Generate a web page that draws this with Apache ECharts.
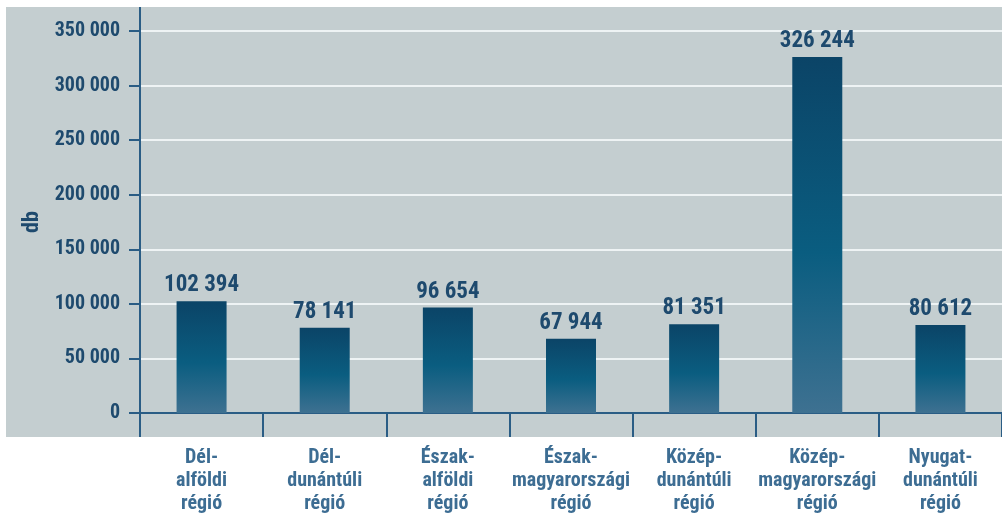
<!DOCTYPE html>
<html>
<head>
<meta charset="utf-8">
<script src="https://cdn.jsdelivr.net/npm/echarts@6/dist/echarts.min.js"></script>
<style>
    html, body { margin: 0; padding: 0; background: #ffffff; }
    #chart { width: 1002px; height: 527px; }
</style>
</head>
<body>
<div id="chart"></div>
<script>
// régiók és darabszámok
var regions = ['Dél-\nalföldi\nrégió', 'Dél-\ndunántúli\nrégió', 'Észak-\nalföldi\nrégió',
    'Észak-\nmagyarországi\nrégió', 'Közép-\ndunántúli\nrégió', 'Közép-\nmagyarországi\nrégió',
    'Nyugat-\ndunántúli\nrégió'];
var counts = [102394, 78141, 96654, 67944, 81351, 326244, 80612];
var yTicks = [0, 50000, 100000, 150000, 200000, 250000, 300000, 350000];

var font = "'Roboto Condensed', 'DejaVu Sans Condensed', sans-serif";
var axisColor = '#2a5d85';

function fmt(v) {
    return String(v).replace(/\B(?=(\d{3})+(?!\d))/g, ' ');
}

var myChart = echarts.init(document.getElementById('chart'));

var option = {
    animation: false,
    graphic: [
        {
            type: 'rect', z: -10, silent: true,
            shape: { x: 6, y: 7, width: 1000, height: 430 },
            style: { fill: '#c4ced0' }
        },
        // tengely meghosszabbítások
        {
            type: 'line', z: 10, silent: true,
            shape: { x1: 140, y1: 7, x2: 140, y2: 32 },
            style: { stroke: axisColor, lineWidth: 2 }
        },
        {
            type: 'line', z: 10, silent: true,
            shape: { x1: 129, y1: 413, x2: 141, y2: 413 },
            style: { stroke: axisColor, lineWidth: 2 }
        }
    ],
    grid: { left: 140, top: 31, width: 868, height: 382 },
    xAxis: {
        type: 'category',
        data: regions,
        axisLine: { lineStyle: { color: axisColor, width: 2 } },
        axisTick: { show: true, interval: 0, length: 24, lineStyle: { color: axisColor, width: 2 } },
        axisLabel: {
            interval: 0,
            margin: 33,
            fontFamily: font,
            fontWeight: 'bold',
            fontSize: 20,
            lineHeight: 23,
            color: '#3d6d93'
        }
    },
    yAxis: {
        type: 'value',
        min: yTicks[0],
        max: yTicks[yTicks.length - 1],
        interval: 50000,
        name: 'db',
        nameLocation: 'middle',
        nameGap: 88,
        nameRotate: 90,
        nameTextStyle: { fontFamily: font, fontWeight: 'bold', fontSize: 22, color: '#1e4a6e' },
        axisLine: { show: true, lineStyle: { color: axisColor, width: 2 } },
        axisTick: { show: true, length: 11, lineStyle: { color: axisColor, width: 2 } },
        axisLabel: {
            margin: 20,
            fontFamily: font,
            fontWeight: 'bold',
            fontSize: 20,
            color: '#1e4a6e',
            formatter: fmt
        },
        splitLine: { lineStyle: { color: '#eef3f4', width: 2 } }
    },
    series: [{
        type: 'bar',
        data: counts,
        barWidth: 50,
        itemStyle: {
            color: new echarts.graphic.LinearGradient(0, 0, 0, 1, [
                { offset: 0, color: '#0b4467' },
                { offset: 0.55, color: '#0a5d80' },
                { offset: 1, color: '#3e7191' }
            ])
        },
        label: {
            show: true,
            position: 'top',
            distance: 4,
            fontFamily: font,
            fontWeight: 'bold',
            fontSize: 23,
            color: '#1e4a6e',
            formatter: function (p) { return fmt(p.value); }
        }
    }]
};

myChart.setOption(option);
</script>
</body>
</html>
